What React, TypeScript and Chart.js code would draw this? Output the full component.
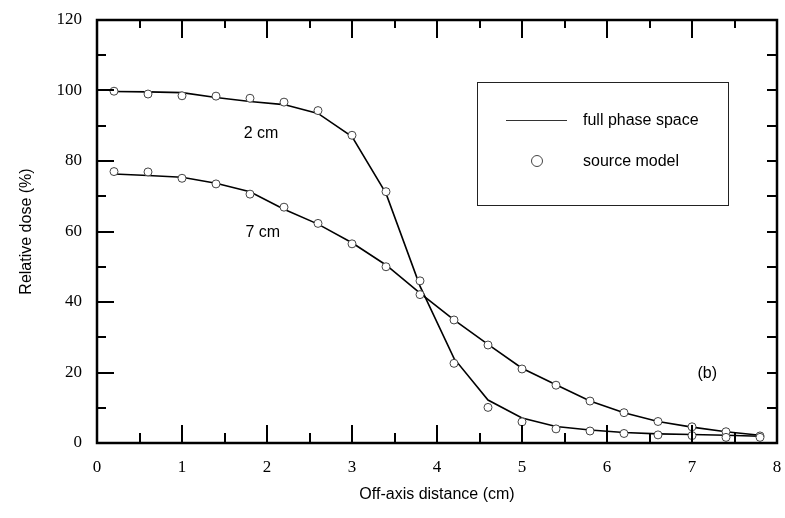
import React, { useEffect, useRef } from "react";
import { Chart, registerables } from "chart.js";

Chart.register(...registerables);

const xPositions = [0.2, 0.6, 1.0, 1.4, 1.8, 2.2, 2.6, 3.0, 3.4, 3.8, 4.2, 4.6, 5.0, 5.4, 5.8, 6.2, 6.6, 7.0, 7.4, 7.8];

// full phase space (lines)
const full2cm = [99.7, 99.6, 99.4, 98.0, 96.9, 96.0, 93.5, 86.9, 70.8, 44.5, 24.0, 12.2, 7.1, 4.7, 3.7, 3.0, 2.6, 2.4, 2.2, 1.9];
const full7cm = [76.3, 75.9, 75.4, 73.7, 71.3, 66.3, 62.1, 56.8, 50.5, 42.5, 34.9, 28.0, 21.2, 16.5, 11.9, 8.6, 6.1, 4.5, 3.2, 2.2];

// source model (circles)
const source2cm = [99.8, 99.0, 98.5, 98.4, 97.8, 96.7, 94.3, 87.3, 71.3, 46.0, 22.6, 10.1, 6.0, 4.0, 3.4, 2.7, 2.3, 2.1, 1.6, 1.6];
const source7cm = [77.0, 76.9, 75.1, 73.5, 70.6, 66.9, 62.3, 56.5, 50.0, 42.1, 34.9, 27.8, 21.0, 16.4, 11.9, 8.6, 6.1, 4.6, 3.2, 2.0];

const xTickLabels = ["0", "1", "2", "3", "4", "5", "6", "7", "8"];
const yTickLabels = ["0", "20", "40", "60", "80", "100", "120"];

const curveLabels = [
  { text: "2 cm", x: 1.93, y: 87.9 },
  { text: "7 cm", x: 1.95, y: 59.6 },
  { text: "(b)", x: 7.18, y: 19.6 },
];

const legendLabels = ["full phase space", "source model"];

const SANS = "'Liberation Sans', Arial, sans-serif";
const SERIF = "'Liberation Serif', 'Times New Roman', serif";

const pts = (ys: number[]) => xPositions.map((x, i) => ({ x, y: ys[i] }));

const framePlugin = {
  id: "frameTicks",
  afterDatasetsDraw(chart: any) {
    const { ctx, chartArea, scales } = chart;
    const xs = scales.x;
    const ys = scales.y;
    const { left, right, top, bottom } = chartArea;
    ctx.save();
    ctx.strokeStyle = "#000";
    ctx.lineWidth = 2;
    ctx.beginPath();
    for (let v = 0; v <= 8.001; v += 0.5) {
      const px = Math.round(xs.getPixelForValue(v));
      const major = Math.abs(v - Math.round(v)) < 1e-6;
      ctx.moveTo(px, bottom);
      ctx.lineTo(px, bottom - (major ? 18 : 10));
      ctx.moveTo(px, top);
      ctx.lineTo(px, top + (major ? 18 : 8));
    }
    for (let v = 0; v <= 120.001; v += 10) {
      const py = Math.round(ys.getPixelForValue(v));
      const major = v % 20 === 0;
      ctx.moveTo(left, py);
      ctx.lineTo(left + (major ? 17 : 9), py);
      ctx.moveTo(right, py);
      ctx.lineTo(right - 10, py);
    }
    ctx.stroke();
    ctx.lineWidth = 2.5;
    ctx.strokeRect(left, top, right - left, bottom - top);

    // curve labels
    ctx.fillStyle = "#000";
    ctx.font = `16px ${SANS}`;
    ctx.textAlign = "center";
    ctx.textBaseline = "middle";
    curveLabels.forEach((l) => {
      ctx.fillText(l.text, xs.getPixelForValue(l.x), ys.getPixelForValue(l.y));
    });

    // legend box
    const bx = left + 380;
    const by = top + 62;
    ctx.lineWidth = 1;
    ctx.strokeStyle = "#222";
    ctx.strokeRect(bx + 0.5, by + 0.5, 251, 123);
    ctx.beginPath();
    ctx.strokeStyle = "#333";
    ctx.lineWidth = 1;
    ctx.moveTo(bx + 29, by + 38.5);
    ctx.lineTo(bx + 90, by + 38.5);
    ctx.stroke();
    ctx.beginPath();
    ctx.arc(bx + 60, by + 79, 5.5, 0, Math.PI * 2);
    ctx.fillStyle = "#fff";
    ctx.fill();
    ctx.strokeStyle = "#444";
    ctx.stroke();
    ctx.fillStyle = "#000";
    ctx.font = `16px ${SANS}`;
    ctx.textAlign = "left";
    ctx.fillText(legendLabels[0], bx + 106, by + 39);
    ctx.fillText(legendLabels[1], bx + 106, by + 80);
    ctx.restore();
  },
};

export default function App() {
  const ref = useRef<HTMLCanvasElement | null>(null);
  useEffect(() => {
    document.body.style.margin = "0";
    const canvas = ref.current;
    if (!canvas) return;
    const chart = new Chart(canvas, {
      type: "line",
      data: {
        datasets: [
          {
            label: "source model 2 cm",
            data: pts(source2cm),
            showLine: false,
            pointRadius: 4,
            pointBackgroundColor: "#fff",
            pointBorderColor: "#444",
            pointBorderWidth: 1,
            order: 0,
          },
          {
            label: "source model 7 cm",
            data: pts(source7cm),
            showLine: false,
            pointRadius: 4,
            pointBackgroundColor: "#fff",
            pointBorderColor: "#444",
            pointBorderWidth: 1,
            order: 0,
          },
          {
            label: "full phase space 2 cm",
            data: pts(full2cm),
            borderColor: "#000",
            borderWidth: 1.6,
            pointRadius: 0,
            tension: 0,
            fill: false,
            order: 1,
          },
          {
            label: "full phase space 7 cm",
            data: pts(full7cm),
            borderColor: "#000",
            borderWidth: 1.6,
            pointRadius: 0,
            tension: 0,
            fill: false,
            order: 1,
          },
        ],
      },
      options: {
        animation: false,
        responsive: false,
        maintainAspectRatio: false,
        layout: { padding: { top: 20, right: 8, left: 0, bottom: 0 } },
        plugins: { legend: { display: false }, tooltip: { enabled: false } },
        scales: {
          x: {
            type: "linear",
            min: 0,
            max: 8,
            grid: { display: false, drawTicks: false },
            border: { display: false },
            ticks: {
              stepSize: 1,
              padding: 14,
              color: "#000",
              font: { family: SERIF, size: 17 },
              callback: (v: any) => xTickLabels[Math.round(Number(v))] ?? "",
            },
            title: {
              display: true,
              text: "Off-axis distance (cm)",
              color: "#000",
              font: { family: SANS, size: 16 },
              padding: { top: 0, bottom: 14 },
            },
            afterFit: (s: any) => {
              s.height = 75;
              s.paddingLeft = 0;
              s.paddingRight = 0;
            },
          },
          y: {
            type: "linear",
            min: 0,
            max: 120,
            grid: { display: false, drawTicks: false },
            border: { display: false },
            ticks: {
              stepSize: 20,
              padding: 15,
              color: "#000",
              font: { family: SERIF, size: 17 },
              callback: (v: any) => yTickLabels[Math.round(Number(v) / 20)] ?? "",
            },
            title: {
              display: true,
              text: "Relative dose (%)",
              color: "#000",
              font: { family: SANS, size: 16 },
              padding: { top: 17, bottom: 0 },
            },
            afterFit: (s: any) => {
              s.width = 97;
              s.paddingTop = 0;
              s.paddingBottom = 0;
            },
          },
        },
      },
      plugins: [framePlugin],
    });
    return () => chart.destroy();
  }, []);
  return (
    <div style={{ width: 785, height: 518, background: "#fff" }}>
      <canvas ref={ref} width={785} height={518} style={{ display: "block" }} />
    </div>
  );
}
